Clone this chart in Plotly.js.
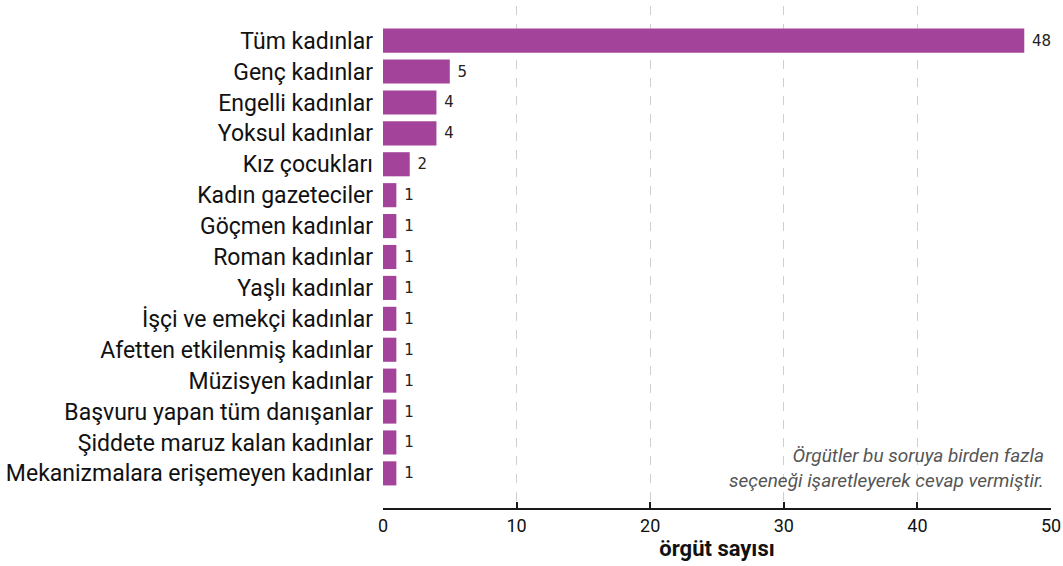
<!DOCTYPE html>
<html><head><meta charset="utf-8">
<script src="https://cdn.plot.ly/plotly-3.0.1.min.js"></script>
<style>body{margin:0;background:#fff}#c{width:1063px;height:566px}</style>
</head><body><div id="c"></div>
<script>
const categories = ["Tüm kadınlar","Genç kadınlar","Engelli kadınlar","Yoksul kadınlar","Kız çocukları","Kadın gazeteciler","Göçmen kadınlar","Roman kadınlar","Yaşlı kadınlar","İşçi ve emekçi kadınlar","Afetten etkilenmiş kadınlar","Müzisyen kadınlar","Başvuru yapan tüm danışanlar","Şiddete maruz kalan kadınlar","Mekanizmalara erişemeyen kadınlar"];
const counts = [48,5,4,4,2,1,1,1,1,1,1,1,1,1,1];
const xTicks = [0,10,20,30,40,50];
const noteText = "Örgütler bu soruya birden fazla<br>seçeneği işaretleyerek cevap vermiştir.";

const trace = {
  type:'bar', orientation:'h', x:counts, y:categories,
  marker:{color:'#A3449A'},
  text:counts.map(v => ' ' + v), textposition:'outside', cliponaxis:false,
  constraintext:'none',
  textfont:{family:'DejaVu Sans', size:15, color:'#222'},
  outsidetextfont:{family:'DejaVu Sans', size:15, color:'#222'},
  hoverinfo:'none', width:0.78
};
const layout = {
  width:1063, height:566,
  margin:{l:383, r:12, t:6, b:58},
  paper_bgcolor:'#fff', plot_bgcolor:'#fff',
  showlegend:false,
  font:{family:'Roboto', color:'#111'},
  xaxis:{range:[0,50], tickvals:xTicks, ticktext:xTicks.map(String),
    showgrid:true, gridcolor:'#cfcfcf', griddash:'dash', gridwidth:1,
    zeroline:false, showline:true, linecolor:'#1a1a1a', linewidth:2,
    ticks:'inside', ticklen:6, tickwidth:2, tickcolor:'#1a1a1a',
    tickfont:{family:'Roboto', size:18, color:'#111'},
    title:{text:'<b>örgüt sayısı</b>', font:{family:'Roboto', size:22, color:'#111'}, standoff:6}
  },
  yaxis:{type:'category', categoryorder:'array', categoryarray:categories,
    range:[15.12,-1.12], showgrid:false, zeroline:false, showline:false, ticks:'',
    ticklabelstandoff:9,
    tickfont:{family:'Roboto', size:23, color:'#111'}
  },
  annotations:[{xref:'paper', yref:'paper', x:0.993, y:0.028, xanchor:'right', yanchor:'bottom',
    align:'right', showarrow:false, text:'<i>'+noteText+'</i>',
    font:{family:'Roboto', size:19, color:'#555'}}]
};
Plotly.newPlot('c',[trace],layout,{displayModeBar:false,staticPlot:true});
</script></body></html>
